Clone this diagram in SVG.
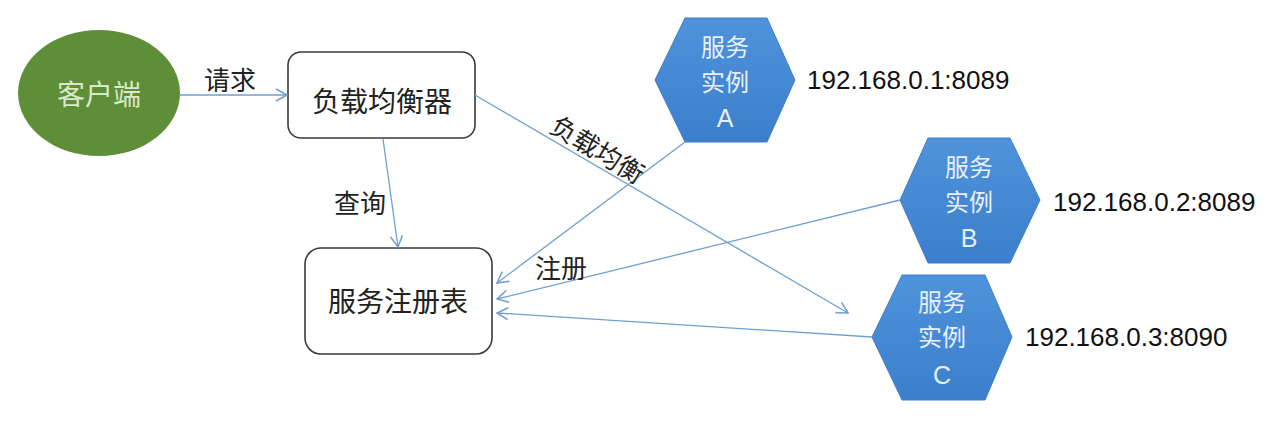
<svg xmlns="http://www.w3.org/2000/svg" width="1279" height="421" viewBox="0 0 1279 421">
<defs>
<linearGradient id="hexg" x1="0" y1="0" x2="0" y2="1">
<stop offset="0" stop-color="#4f93dc"/>
<stop offset="1" stop-color="#3b7fcc"/>
</linearGradient>
<marker id="arr" markerWidth="14" markerHeight="14" refX="12" refY="7" orient="auto" markerUnits="userSpaceOnUse">
<path d="M1,1 L12,7 L1,13" fill="none" stroke="#6d9fd3" stroke-width="1.5"/>
</marker>
</defs>
<style>
text{font-family:"Noto Sans CJK SC","Liberation Sans",sans-serif;}
.box{fill:#fff;stroke:#3a3a3a;stroke-width:1.6;}
.hex{fill:url(#hexg);stroke:#3e7fc6;stroke-width:1;}
.ht{fill:#e8f0fa;font-size:24px;text-anchor:middle;}
.hl{fill:#e8f0fa;font-size:25px;text-anchor:middle;font-family:"Liberation Sans",sans-serif;}
.ip{fill:#111;font-size:26px;font-family:"Liberation Sans","Noto Sans",sans-serif;}
.lbl{fill:#222;font-size:26px;}
.con{stroke:#6d9fd3;stroke-width:1.3;fill:none;marker-end:url(#arr);}
</style>
<rect width="1279" height="421" fill="#fff"/>
<g id="client">
<ellipse cx="99" cy="93" rx="81" ry="63" fill="#5e8f38"/>
<text x="99" y="105" font-size="28" fill="#d8e8c8" text-anchor="middle">客户端</text>
</g>
<g id="lb">
<rect class="box" x="288" y="52" width="187" height="86" rx="13"/>
<text x="382" y="112" font-size="28" fill="#222" text-anchor="middle">负载均衡器</text>
</g>
<g id="registry">
<rect class="box" x="305" y="248" width="187" height="106" rx="16"/>
<text x="398" y="312" font-size="28" fill="#222" text-anchor="middle">服务注册表</text>
</g>
<g id="svcA">
<polygon class="hex" points="685,18 767,18 795,80 767,142 685,142 655,80"/>
<text class="ht" x="725" y="56">服务</text>
<text class="ht" x="725" y="91">实例</text>
<text class="hl" x="725" y="127">A</text>
<text class="ip" x="807" y="89">192.168.0.1:8089</text>
</g>
<g id="svcB">
<polygon class="hex" points="928,138 1010,138 1040,200 1010,263 928,263 900,200"/>
<text class="ht" x="969" y="176">服务</text>
<text class="ht" x="969" y="211">实例</text>
<text class="hl" x="969" y="247">B</text>
<text class="ip" x="1053" y="211">192.168.0.2:8089</text>
</g>
<g id="svcC">
<polygon class="hex" points="902,275 985,275 1012,337 985,400 902,400 872,337"/>
<text class="ht" x="942" y="311">服务</text>
<text class="ht" x="942" y="346">实例</text>
<text class="hl" x="942" y="384">C</text>
<text class="ip" x="1025" y="346">192.168.0.3:8090</text>
</g>
<g id="connectors">
<line class="con" x1="180" y1="95" x2="287" y2="95"/>
<line class="con" x1="383" y1="139" x2="398" y2="247"/>
<line class="con" x1="475" y1="95" x2="848" y2="313"/>
<line class="con" x1="685" y1="142" x2="497" y2="283"/>
<line class="con" x1="900" y1="200" x2="497" y2="299"/>
<line class="con" x1="872" y1="337" x2="497" y2="313"/>
</g>
<g id="labels">
<text class="lbl" x="204" y="90">请求</text>
<text class="lbl" x="334" y="213">查询</text>
<text class="lbl" x="535" y="278">注册</text>
<text class="lbl" x="548" y="131" transform="rotate(31 548 131)">负载均衡</text>
</g>
</svg>
